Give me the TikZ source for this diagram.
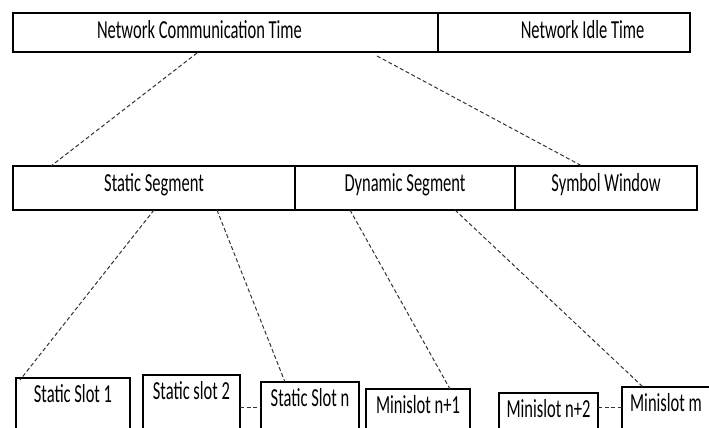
\documentclass[tikz,border=0pt]{standalone}
\usepackage{fontspec}
\setmainfont{Carlito}
\newfontfamily\narrowfont[FakeStretch=0.635]{Carlito}
\usetikzlibrary{positioning,calc}

\begin{document}
\begin{tikzpicture}[x=1pt,y=-1pt,
    bar/.style={draw, line width=1.3pt, inner sep=0pt, outer sep=0pt,
        font=\narrowfont\fontsize{26}{30}\selectfont},
    slot/.style={draw, line width=1.1pt, inner sep=0pt, outer sep=0pt,
        anchor=north west, text height=24.5pt, text depth=50pt,
        font=\narrowfont\fontsize{26}{30}\selectfont},
    link/.style={draw=black!80, line width=1pt, dash pattern=on 4pt off 2.5pt}]

    \useasboundingbox (0,0) rectangle (709,428);
    \clip (0,0) rectangle (709,428);

    % Cycle
    \node[bar, anchor=north west, minimum width=425pt,
        text height=25.3pt, text depth=13.7pt]
        (commtime) at (13,13) {\hspace*{-52pt}Network Communication Time};
    \node[bar, right=0pt of commtime, minimum width=252pt,
        text height=25.3pt, text depth=13.7pt]
        (idletime) {\hspace*{37pt}Network Idle Time};

    % Segments
    \node[bar, anchor=north west, minimum width=282pt,
        text height=25pt, text depth=19pt]
        (static) at (13,166) {Static Segment};
    \node[bar, right=0pt of static, minimum width=220pt,
        text height=25pt, text depth=19pt]
        (dynamic) {Dynamic Segment};
    \node[bar, right=0pt of dynamic, minimum width=182pt,
        text height=25pt, text depth=19pt]
        (symbol) {Symbol Window};

    % Slots
    \node[slot, minimum width=114pt] (slotone) at (16,378) {Static Slot 1};
    \node[slot, minimum width=97pt] (slottwo) at (143,375) {Static slot 2};
    \node[slot, minimum width=98pt] (slotn) at (261,382) {Static Slot n};
    \node[slot, minimum width=104pt] (minione) at (366,389) {Minislot n+1};
    \node[slot, minimum width=99pt] (minitwo) at (499,393) {Minislot n+2};
    \node[slot, minimum width=88pt] (minim) at (622,387) {Minislot m};

    % Expansion lines
    \draw[link] ($(commtime.south west)+(184,1)$)
        -- ($(static.north west)+(38,0)$);
    \draw[link] ($(commtime.south west)+(364,4)$)
        -- ($(symbol.north)+(-24,0)$);

    \draw[link] (static.south) -- ($(slotone.north west)+(4,2)$);
    \draw[link] ($(static.south)+(63,0)$) -- ($(slotn.north west)+(24,0)$);
    \draw[link] ($(dynamic.south west)+(55,0)$)
        -- ($(minione.north west)+(84,0)$);
    \draw[link] ($(dynamic.south east)+(-60,0)$)
        -- ($(minim.north west)+(21,0)$);

    % Gaps between slots
    \draw[link] ($(slottwo.north east)+(0,32)$) coordinate (gapa)
        -- (gapa -| slotn.west);
    \draw[link] ($(minitwo.north east)+(0,14)$) coordinate (gapb)
        -- (gapb -| minim.west);

\end{tikzpicture}
\end{document}
